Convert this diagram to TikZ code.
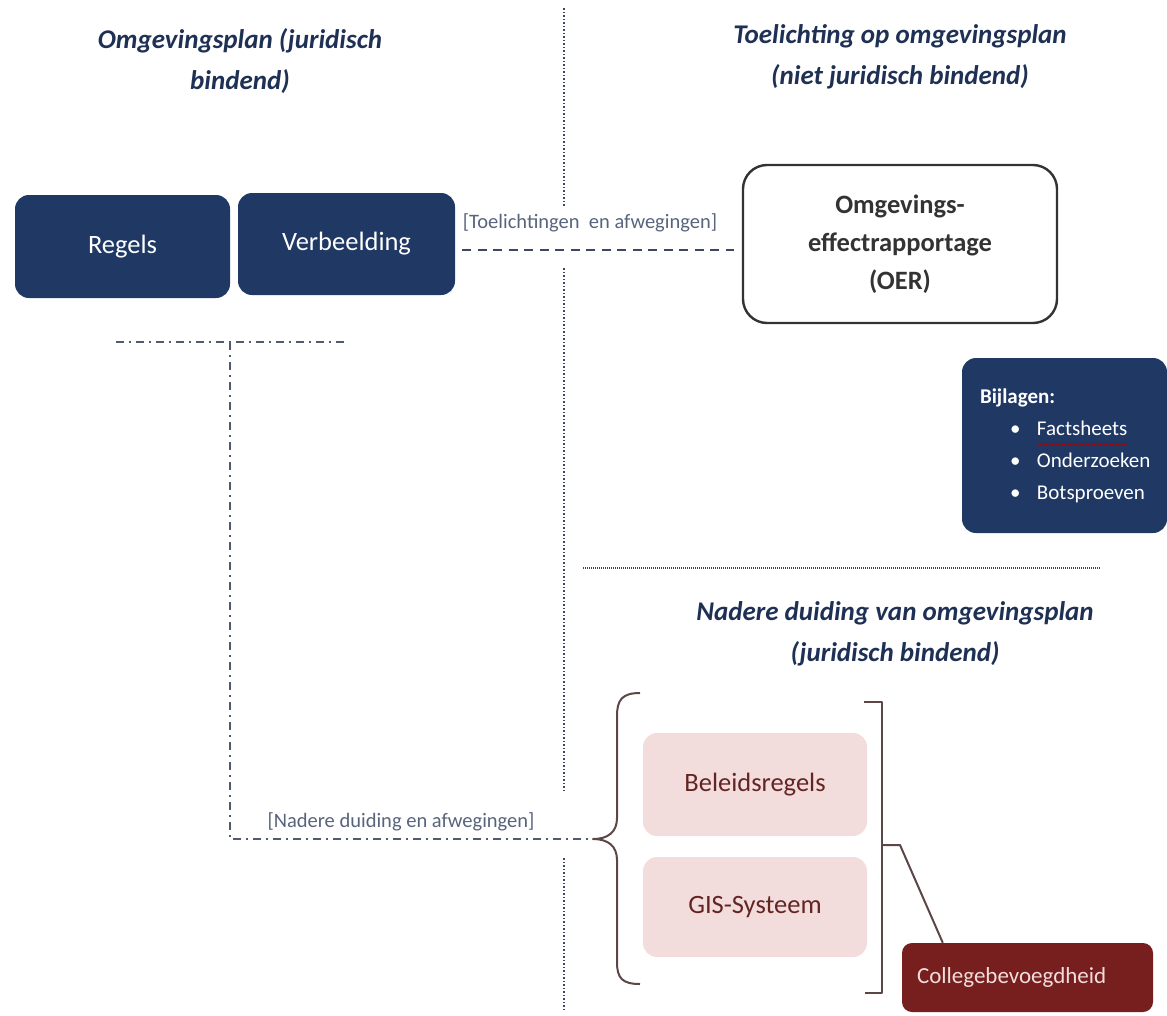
\documentclass[tikz,border=0pt]{standalone}
\usepackage{fontspec}
\setmainfont{Carlito}
\usetikzlibrary{decorations.pathmorphing}

\definecolor{navy}{RGB}{31,56,100}
\definecolor{titleblue}{RGB}{30,48,84}
\definecolor{lblgray}{RGB}{88,100,124}
\definecolor{linegray}{RGB}{60,72,96}
\definecolor{oergray}{RGB}{51,51,51}
\definecolor{pinkfill}{RGB}{242,221,220}
\definecolor{maroon}{RGB}{99,37,35}
\definecolor{darkred}{RGB}{119,30,30}
\definecolor{bracegray}{RGB}{92,70,70}

\begin{document}
\begin{tikzpicture}[x=1pt,y=-1pt,>=latex]
    \tikzstyle{every node}=[font=\fontsize{26.5}{38}\selectfont]
    \tikzstyle{title}=[font=\fontsize{27}{41}\selectfont\bfseries\itshape,
        text=titleblue,align=center]
    \tikzstyle{lbl}=[font=\fontsize{20.5}{24}\selectfont,text=lblgray]
    \tikzstyle{navybox}=[fill=navy,text=white,rounded corners=14pt,inner sep=0pt]
    \tikzstyle{pinkbox}=[fill=pinkfill,text=maroon,rounded corners=14pt,inner sep=0pt,
        minimum width=224pt]
    \tikzstyle{dashdotline}=[line width=2.2pt,draw=linegray!90,
        dash pattern=on 8pt off 5pt on 2pt off 5pt]
    \tikzstyle{sepline}=[line width=1.8pt,draw=linegray,dash pattern=on 1.5pt off 2pt]
    \tikzstyle{braceline}=[line width=2pt,draw=bracegray,line join=round]

    \useasboundingbox (0,0) rectangle (1167,1015);

    % titels
    \node[title] (tLinks) at (240,61) {Omgevingsplan (juridisch\\bindend)};
    \node[title] (tRechts) at (900,57) {Toelichting op omgevingsplan\\(niet juridisch bindend)};
    \node[title] (tNadere) at (895,634) {Nadere duiding van omgevingsplan\\(juridisch bindend)};

    % scheidingslijnen
    \draw[sepline] (564,8) -- (564,207);
    \draw[sepline] (564,268) -- (564,793);
    \draw[sepline] (564,858) -- (564,1010);
    \draw[line width=1.6pt,draw=linegray,dash pattern=on 1pt off 1pt] (583,568) -- (1100,568);

    % omgevingsplan
    \node[navybox,minimum width=215pt,minimum height=103pt] (regels) at (122.5,246.5) {Regels};
    \node[navybox,minimum width=217pt,minimum height=102pt] (verb) at (346.5,244) {Verbeelding};

    % toelichting
    \node[draw=oergray,line width=2.4pt,rounded corners=24pt,text=oergray,
        font=\fontsize{26.5}{38}\selectfont\bfseries,align=center,
        minimum width=314pt,minimum height=158pt,inner sep=0pt]
        (oer) at (900,244) {Omgevings-\\effectrapportage\\(OER)};

    \draw[line width=2.4pt,draw=linegray,dash pattern=on 9pt off 6.5pt]
        ([shift={(7,6)}]verb.east) -- ([shift={(-8,6)}]oer.west);
    \node[lbl] (toelLbl) at (590,223) {[Toelichtingen\ \ en afwegingen]};

    \node[navybox,font=\fontsize{21}{32}\selectfont,align=left,text width=169pt,
        inner xsep=18pt,minimum height=175pt] (bijl) at (1064.5,445.5)
        {\textbf{Bijlagen:}\\
         \hspace*{30pt}\makebox[27pt][l]{\textbullet}Factsheets\\
         \hspace*{30pt}\makebox[27pt][l]{\textbullet}Onderzoeken\\
         \hspace*{30pt}\makebox[27pt][l]{\textbullet}Botsproeven};
    \draw[red!70!black,line width=0.8pt,decorate,
        decoration={snake,amplitude=0.7pt,segment length=3pt}] (1037,445) -- (1127,445);

    % nadere duiding
    \node[pinkbox,minimum height=103pt] (bel) at (755,784.5) {Beleidsregels};
    \node[pinkbox,minimum height=100pt] (gis) at (755,907) {GIS-Systeem};
    \node[fill=darkred,text=pinkfill,rounded corners=10pt,font=\fontsize{23}{28}\selectfont,
        align=left,text width=221pt,inner xsep=15pt,inner ysep=0pt,minimum height=69pt]
        (college) at (1027.5,977.5) {Collegebevoegdheid};

    \coordinate (tipL) at (593,839);
    \coordinate (tipR) at (900,845);
    \draw[braceline] (640,693) .. controls (622,693) and (617,700) .. (617,716)
        -- (617,818) .. controls (617,832) and (608,839) .. (tipL)
        .. controls (608,839) and (617,846) .. (617,860)
        -- (617,962) .. controls (617,978) and (622,984) .. (640,984);
    \draw[braceline] (864,702) -- (882,702) -- (882,993) -- (865,993);
    \draw[braceline] (882,845) -- (tipR) -- ([xshift=41pt]college.north west);

    % dash-dot verbinding
    \coordinate (splitL) at (116,342);
    \coordinate (splitR) at (345,342);
    \coordinate (split) at (230,342);
    \draw[dashdotline] (splitL) -- (splitR);
    \draw[dashdotline] (split) |- (tipL);
    \node[lbl] (nadLbl) at (401,822) {[Nadere duiding en afwegingen]};
\end{tikzpicture}
\end{document}
